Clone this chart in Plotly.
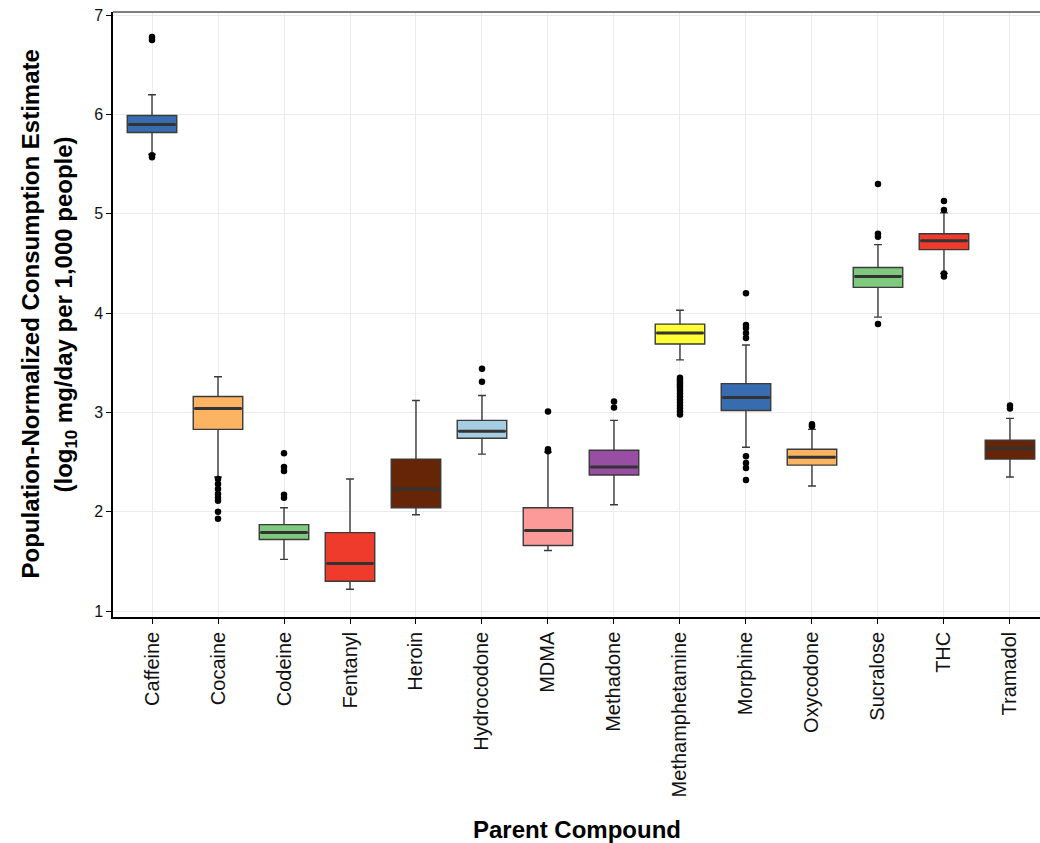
import plotly.graph_objects as go

# ---------------- data ----------------
compounds = ["Caffeine", "Cocaine", "Codeine", "Fentanyl", "Heroin", "Hydrocodone", "MDMA",
             "Methadone", "Methamphetamine", "Morphine", "Oxycodone", "Sucralose", "THC", "Tramadol"]

q1 = [5.82, 2.83, 1.72, 1.30, 2.04, 2.74, 1.66, 2.37, 3.69, 3.02, 2.47, 4.26, 4.64, 2.53]
median = [5.90, 3.04, 1.79, 1.48, 2.23, 2.81, 1.81, 2.45, 3.80, 3.15, 2.55, 4.37, 4.73, 2.64]
q3 = [5.99, 3.16, 1.87, 1.79, 2.53, 2.92, 2.04, 2.62, 3.89, 3.29, 2.63, 4.46, 4.80, 2.72]
lower_whisker = [5.60, 2.35, 1.52, 1.22, 1.97, 2.58, 1.61, 2.07, 3.53, 2.65, 2.26, 3.96, 4.40, 2.35]
upper_whisker = [6.20, 3.36, 2.04, 2.33, 3.12, 3.17, 2.60, 2.92, 4.03, 3.68, 2.83, 4.69, 5.01, 2.94]

fill_colors = ["#386CB0", "#FDB462", "#7FC97F", "#EF3B2C", "#662506", "#A6CEE3", "#FB9A99",
               "#984EA3", "#FFFF33", "#386CB0", "#FDB462", "#7FC97F", "#EF3B2C", "#662506"]

out_caffeine = [6.78, 6.75, 5.59, 5.57]
out_cocaine = [2.33, 2.28, 2.23, 2.18, 2.14, 2.11, 2.00, 1.93]
out_codeine = [2.59, 2.45, 2.41, 2.17, 2.14]
out_fentanyl = []
out_heroin = []
out_hydrocodone = [3.44, 3.31]
out_mdma = [3.01, 2.63, 2.61]
out_methadone = [3.11, 3.05]
out_methamphetamine = [3.35, 3.33, 3.31, 3.29, 3.27, 3.25, 3.22, 3.19, 3.16, 3.13,
                       3.10, 3.07, 3.04, 3.01, 2.98]
out_morphine = [4.20, 3.88, 3.85, 3.80, 3.75, 2.56, 2.49, 2.44, 2.32]
out_oxycodone = [2.88, 2.86]
out_sucralose = [5.30, 4.80, 4.77, 3.89]
out_thc = [5.13, 5.04, 4.40, 4.37]
out_tramadol = [3.07, 3.04]

outlier_lists = [out_caffeine, out_cocaine, out_codeine, out_fentanyl, out_heroin, out_hydrocodone,
                 out_mdma, out_methadone, out_methamphetamine, out_morphine, out_oxycodone,
                 out_sucralose, out_thc, out_tramadol]

y_ticks = [1, 2, 3, 4, 5, 6, 7]

# ---------------- figure ----------------
BOX_W = 0.75
fig = go.Figure()

for i, c in enumerate(compounds):
    fig.add_trace(go.Box(
        x=[i], q1=[q1[i]], median=[median[i]], q3=[q3[i]],
        lowerfence=[lower_whisker[i]], upperfence=[upper_whisker[i]],
        fillcolor=fill_colors[i], line=dict(color="#3a3a3a", width=1.4),
        width=BOX_W, whiskerwidth=0.16, boxpoints=False, showlegend=False,
        name=c, hoverinfo="skip"))

# thicker median bars (ggplot style)
mx, my = [], []
for i, m in enumerate(median):
    mx += [i - BOX_W / 2 + 0.02, i + BOX_W / 2 - 0.02, None]
    my += [m, m, None]
fig.add_trace(go.Scatter(x=mx, y=my, mode="lines", line=dict(color="#333333", width=3),
                         showlegend=False, hoverinfo="skip"))

ox, oy = [], []
for i, lst in enumerate(outlier_lists):
    ox += [i] * len(lst)
    oy += lst
fig.add_trace(go.Scatter(x=ox, y=oy, mode="markers",
                         marker=dict(color="black", size=6.5), showlegend=False))

FONT = "Liberation Sans, Arial, Helvetica, sans-serif"

fig.update_layout(
    width=1040, height=843,
    margin=dict(l=113, r=0, t=12, b=226),
    plot_bgcolor="white", paper_bgcolor="white",
    boxmode="overlay",
    font=dict(family=FONT, color="black"),
    xaxis=dict(
        range=[-0.591, 13.455],
        tickmode="array", tickvals=list(range(len(compounds))), ticktext=compounds,
        tickangle=-90, tickfont=dict(size=20, color="#111111"),
        showgrid=True, gridcolor="#EBEBEB", gridwidth=1.2,
        zeroline=False, showline=True, linecolor="black", linewidth=1.5,
        ticks="outside", ticklen=5, tickcolor="black", tickwidth=1,
    ),
    yaxis=dict(
        range=[0.94, 7.033],
        tickmode="array", tickvals=y_ticks, ticktext=[str(t) for t in y_ticks],
        tickfont=dict(size=16, color="#111111"),
        showgrid=True, gridcolor="#EBEBEB", gridwidth=1.2,
        zeroline=False, showline=True, linecolor="black", linewidth=1.5,
        ticks="outside", ticklen=5, tickcolor="black", tickwidth=1,
    ),
    shapes=[dict(type="line", xref="paper", yref="paper", x0=0, x1=1, y0=1, y1=1,
                 line=dict(color="#555555", width=1.5))],
    annotations=[
        dict(text="<b>Parent Compound</b>", xref="paper", yref="paper", x=0.5, y=0,
             xanchor="center", yanchor="middle", yshift=-212, showarrow=False,
             font=dict(size=24, family=FONT, color="black")),
        dict(text="<b>Population-Normalized Consumption Estimate</b>", xref="paper", yref="paper",
             x=0, y=0.5, xanchor="center", yanchor="middle", xshift=-83, textangle=-90,
             showarrow=False, font=dict(size=24, family=FONT, color="black")),
        dict(text="<b>(log<sub>10</sub> mg/day per 1,000 people)</b>", xref="paper", yref="paper",
             x=0, y=0.5, xanchor="center", yanchor="middle", xshift=-48, textangle=-90,
             showarrow=False, font=dict(size=24, family=FONT, color="black")),
    ],
)

fig.write_html("out.html")
